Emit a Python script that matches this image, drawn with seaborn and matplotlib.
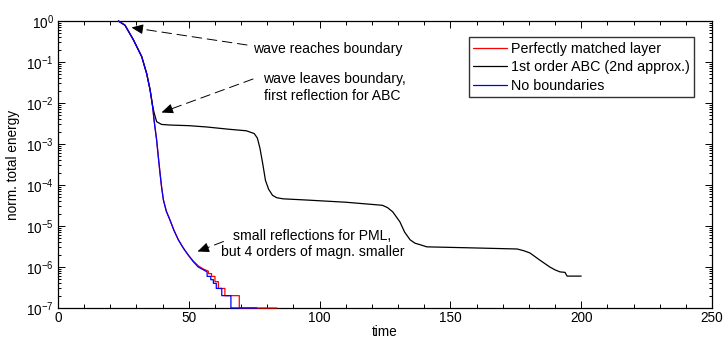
import numpy as np
import pandas as pd
import matplotlib
matplotlib.use("Agg")
import matplotlib.pyplot as plt
import seaborn as sns
from matplotlib.ticker import LogLocator, MultipleLocator, NullFormatter

# ---------------- data ----------------
series_names = ["Perfectly matched layer", "1st order ABC (2nd approx.)", "No boundaries"]
series_colors = ["#ff0000", "#000000", "#0000ff"]

# common initial decay (all three curves coincide)
t_common = [23.1, 25.6, 28.8, 32.0, 33.9, 35.2, 36.2]
e_common = [1.0, 0.79, 0.35, 0.135, 0.052, 0.021, 8.1e-3]

# decay shared by PML and no-boundary runs
t_decay = [36.7, 37.7, 38.4, 39.0, 39.6, 40.3, 41.4, 42.8, 44.3, 46.0, 47.9, 49.8]
e_decay = [3.9e-3, 1.26e-3, 4.5e-4, 1.95e-4, 8.9e-5, 4.3e-5, 2.3e-5, 1.4e-5,
           7.9e-6, 4.6e-6, 2.9e-6, 1.95e-6]

# PML tail (staircase)
t_pml_tail = [51.7, 53.6, 55.6, 57.5, 57.5, 58.7, 58.7, 60.0, 60.0, 61.3, 61.3,
              63.8, 63.8, 69.3, 69.3, 83.6]
e_pml_tail = [1.4e-6, 1.07e-6, 8.9e-7, 7.9e-7, 6.9e-7, 6.9e-7, 5.9e-7, 5.9e-7,
              4.4e-7, 4.4e-7, 3.0e-7, 3.0e-7, 2.0e-7, 2.0e-7, 1e-7, 1e-7]

# no-boundary tail (staircase)
t_free_tail = [51.7, 53.6, 55.6, 57.0, 57.0, 58.4, 58.4, 59.4, 59.4, 60.5, 60.5,
               62.6, 62.6, 66.1, 66.1, 76.0]
e_free_tail = [1.35e-6, 1.0e-6, 8.5e-7, 7.6e-7, 5.9e-7, 5.9e-7, 4.9e-7, 4.9e-7,
               4.0e-7, 4.0e-7, 3.0e-7, 3.0e-7, 2.0e-7, 2.0e-7, 1e-7, 1e-7]

# ABC run after it separates
t_abc = [36.8, 37.7, 39.6, 42.8, 50.0, 56.9, 65.0, 72.0, 75.0, 76.2, 77.2, 78.3,
         79.3, 80.5, 82.0, 83.6, 86.0, 95.0, 110.0, 124.0, 126.0, 128.0, 130.7,
         132.5, 134.6, 136.5, 138.4, 141.0, 156.0, 175.5, 178.0, 180.4, 184.0,
         188.0, 190.0, 191.9, 193.8, 194.6, 200.0]
e_abc = [5.6e-3, 3.5e-3, 3.0e-3, 2.9e-3, 2.8e-3, 2.6e-3, 2.3e-3, 2.1e-3, 1.8e-3,
         1.4e-3, 7.9e-4, 3.2e-4, 1.3e-4, 7.9e-5, 5.6e-5, 4.9e-5, 4.6e-5, 4.3e-5,
         3.8e-5, 3.2e-5, 2.8e-5, 2.2e-5, 1.26e-5, 7.1e-6, 4.6e-6, 3.8e-6, 3.5e-6,
         3.1e-6, 2.95e-6, 2.75e-6, 2.5e-6, 2.2e-6, 1.5e-6, 1.0e-6, 8.5e-7, 7.6e-7,
         7.4e-7, 6.0e-7, 6.0e-7]

x_ticks = [0, 50, 100, 150, 200, 250]

# ---------------- build long-form table ----------------
rows = []
def add(name, ts, es):
    for t, e in zip(ts, es):
        rows.append((name, t, e))

add(series_names[0], t_common + t_decay + t_pml_tail, e_common + e_decay + e_pml_tail)
add(series_names[1], t_common + t_abc, e_common + e_abc)
add(series_names[2], t_common + t_decay + t_free_tail, e_common + e_decay + e_free_tail)
df = pd.DataFrame(rows, columns=["series", "time", "energy"])

# ---------------- style ----------------
sns.set_style("white")
plt.rcParams["font.family"] = ["Liberation Sans", "DejaVu Sans"]
plt.rcParams["mathtext.fontset"] = "custom"
plt.rcParams["mathtext.rm"] = "Liberation Sans"
plt.rcParams["mathtext.it"] = "Liberation Sans:italic"
plt.rcParams["mathtext.bf"] = "Liberation Sans:bold"
plt.rcParams["axes.unicode_minus"] = False
plt.rcParams["lines.scale_dashes"] = False
plt.rcParams["text.color"] = "black"
plt.rcParams["axes.labelcolor"] = "black"
plt.rcParams["xtick.color"] = "black"
plt.rcParams["ytick.color"] = "black"

W, H = 726, 340
fig = plt.figure(figsize=(W / 100, H / 100), dpi=100)
ax = fig.add_axes([58 / W, 1 - 308 / H, (712 - 58) / W, (308 - 21) / H])

sns.lineplot(data=df, x="time", y="energy", hue="series", hue_order=series_names,
             palette=series_colors, estimator=None, sort=False, linewidth=0.9,
             ax=ax, legend=True)
for ln in ax.get_lines():
    ln.set_clip_on(False)
    ln.set_zorder(3)

ax.set_yscale("log")
ax.set_xlim(0, 250)
ax.set_ylim(1e-7, 1)
ax.set_xticks(x_ticks)
ax.xaxis.set_minor_locator(MultipleLocator(10))
ax.yaxis.set_major_locator(LogLocator(base=10, numticks=20))
ax.yaxis.set_minor_locator(LogLocator(base=10, subs=np.arange(2, 10), numticks=20))
ax.yaxis.set_minor_formatter(NullFormatter())

fs = 9.8
ax.tick_params(which="both", direction="in", bottom=True, left=True, top=True,
               right=True, colors="black", labelcolor="black", labelsize=fs, width=0.7)
ax.tick_params(axis="x", which="major", length=5, pad=2.5)
ax.tick_params(axis="x", which="minor", length=3)
ax.tick_params(axis="y", which="major", length=5, pad=3)
ax.tick_params(axis="y", which="minor", length=2.5)
for s in ax.spines.values():
    s.set_visible(True)
    s.set_color("black")
    s.set_linewidth(0.9)

ax.set_xlabel("time", fontsize=fs, labelpad=0)
ax.set_ylabel("norm. total energy", fontsize=fs, labelpad=4)

# legend
handles, labels = ax.get_legend_handles_labels()
leg = ax.legend(handles, labels, loc="upper right",
                bbox_to_anchor=(694 / W, 1 - 37 / H), bbox_transform=fig.transFigure,
                borderaxespad=0, frameon=True, fancybox=False, edgecolor="black",
                fontsize=10.3, handlelength=2.35, handletextpad=0.25,
                labelspacing=0.32, borderpad=0.32, title=None)
leg.get_frame().set_linewidth(1.0)
leg.set_zorder(5)

# annotations
def fp(x, y):
    return (x / W, 1 - y / H)

afs = 10.1
dash = (0, (7, 4))
def arrow(x0, y0, x1, y1):
    ax.annotate("", xy=fp(x1, y1), xytext=fp(x0, y0), xycoords="figure fraction",
                textcoords="figure fraction",
                arrowprops=dict(arrowstyle="-", linestyle=dash, color="black", lw=0.7,
                                shrinkA=0, shrinkB=3))
    # solid head
    dx, dy = x1 - x0, y1 - y0
    L = np.hypot(dx, dy)
    hx, hy = x1 - dx / L * 10, y1 - dy / L * 10
    ax.annotate("", xy=fp(x1, y1), xytext=fp(hx, hy), xycoords="figure fraction",
                textcoords="figure fraction",
                arrowprops=dict(arrowstyle="-|>,head_length=0.7,head_width=0.3",
                                color="black", lw=0.7, shrinkA=0, shrinkB=0,
                                mutation_scale=10))

def label(x, y, s):
    fig.text(x / W, 1 - y / H, s, fontsize=afs, ha="left", va="baseline")

label(253, 52.7, "wave reaches boundary")
arrow(247, 45, 131.5, 27.5)

label(263, 83.3, "wave leaves boundary,")
label(264.5, 99.5, "first reflection for ABC")
arrow(253, 79, 161.5, 112.5)

label(233, 239.5, "small reflections for PML,")
label(221, 256, "but 4 orders of magn. smaller")
arrow(223.5, 241.5, 197.5, 251.5)

fig.savefig("out.png", dpi=100)
